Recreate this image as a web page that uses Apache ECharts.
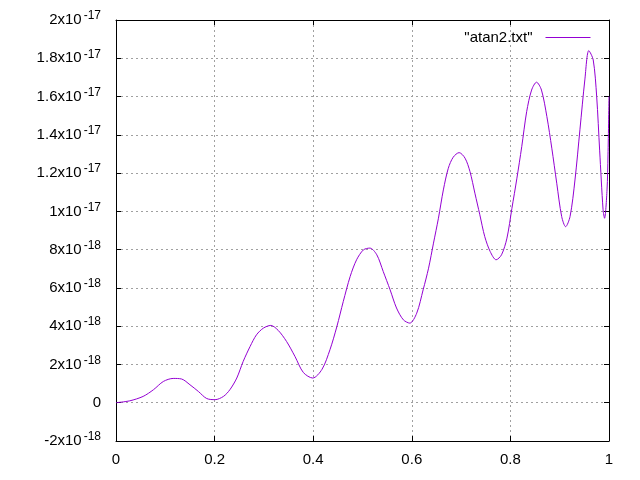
<!DOCTYPE html>
<html>
<head>
<meta charset="utf-8">
<script src="https://cdn.jsdelivr.net/npm/echarts@6/dist/echarts.min.js"></script>
<style>
html,body{margin:0;padding:0;background:#fff;}
#chart{width:640px;height:480px;}
</style>
</head>
<body>
<div id="chart"></div>
<script>
// x values
var xs = [0, 0.028, 0.055, 0.076, 0.096, 0.116, 0.133, 0.150, 0.167, 0.184, 0.201, 0.218, 0.231, 0.245, 0.258, 0.272, 0.285, 0.299, 0.314, 0.329, 0.346, 0.363, 0.380, 0.399, 0.418, 0.434, 0.448, 0.461, 0.475, 0.488, 0.502, 0.515, 0.529, 0.542, 0.556, 0.569, 0.583, 0.596, 0.610, 0.623, 0.634, 0.644, 0.654, 0.664, 0.674, 0.684, 0.696, 0.708, 0.718, 0.728, 0.738, 0.748, 0.759, 0.771, 0.782, 0.793, 0.803, 0.813, 0.823, 0.833, 0.843, 0.853, 0.863, 0.874, 0.884, 0.894, 0.904, 0.912, 0.921, 0.931, 0.941, 0.951, 0.959, 0.968, 0.975, 0.981, 0.988, 0.991, 0.996, 0.998, 1.0];
// y values, in units of 1e-18
var ys = [0, 0.1, 0.33, 0.68, 1.11, 1.27, 1.24, 0.94, 0.59, 0.22, 0.16, 0.33, 0.68, 1.29, 2.16, 2.94, 3.55, 3.9, 4.04, 3.78, 3.2, 2.42, 1.58, 1.29, 1.75, 2.77, 3.98, 5.29, 6.6, 7.47, 7.99, 8.08, 7.73, 6.86, 5.9, 4.95, 4.33, 4.16, 4.68, 5.9, 7.03, 8.34, 9.64, 11.12, 12.25, 12.83, 13.07, 12.78, 12.08, 10.95, 9.82, 8.68, 7.9, 7.47, 7.73, 8.6, 10.15, 11.7, 13.38, 15.21, 16.34, 16.75, 16.34, 14.95, 13.3, 11.47, 9.73, 9.2, 9.73, 11.64, 14.26, 16.87, 18.4, 17.91, 16.0, 13.2, 10.08, 9.64, 11.12, 12.95, 16.0];
var seriesName = '"atan2.txt"';

var FONT = "'Liberation Sans', Arial, sans-serif";
var data = xs.map(function (x, i) { return [x, ys[i]]; });

function yLabel(v) {
  var n = Math.round(v * 10) / 10;
  if (Math.abs(n) < 1e-9) return '{m|0}';
  if (Math.abs(n) >= 10) {
    var m = Math.round(n) / 10;
    return '{m|' + m + 'x10}{e|-17}';
  }
  return '{m|' + n + 'x10}{e|-18}';
}

var chart = echarts.init(document.getElementById('chart'), null, {renderer: 'canvas'});
chart.setOption({
  animation: false,
  backgroundColor: '#ffffff',
  grid: {left: 116, right: 31, top: 20, bottom: 39, containLabel: false},
  legend: {
    show: true,
    right: 44, top: 25,
    orient: 'horizontal',
    align: 'right',
    itemWidth: 45, itemHeight: 16,
    itemStyle: {opacity: 0},
    lineStyle: {width: 1, color: '#9400d3'},
    textStyle: {fontFamily: FONT, fontSize: 15, color: '#000', padding: [0, 8, 0, 0]}
  },
  xAxis: [{
    type: 'value', min: 0, max: 1, interval: 0.2, position: 'bottom',
    axisLine: {show: true, onZero: false, lineStyle: {color: '#000', width: 1}},
    axisTick: {show: true, inside: true, length: 5, lineStyle: {color: '#000'}},
    axisLabel: {show: true, margin: 11, fontFamily: FONT, fontSize: 15, color: '#000'},
    splitLine: {show: true, lineStyle: {color: '#a0a0a0', width: 1, type: [2, 3]}}
  }, {
    type: 'value', min: 0, max: 1, interval: 0.2, position: 'top',
    axisLine: {show: true, onZero: false, lineStyle: {color: '#000', width: 1}},
    axisTick: {show: true, inside: true, length: 5, lineStyle: {color: '#000'}},
    axisLabel: {show: false},
    splitLine: {show: false}
  }],
  yAxis: [{
    type: 'value', min: -2, max: 20, interval: 2, position: 'left',
    axisLine: {show: true, onZero: false, lineStyle: {color: '#000', width: 1}},
    axisTick: {show: true, inside: true, length: 5, lineStyle: {color: '#000'}},
    axisLabel: {
      show: true, margin: 15, color: '#000',
      formatter: yLabel,
      rich: {
        m: {fontFamily: FONT, fontSize: 15, color: '#000'},
        e: {fontFamily: FONT, fontSize: 12, color: '#000', padding: [0, 0, 8, 2]}
      }
    },
    splitLine: {show: true, lineStyle: {color: '#a0a0a0', width: 1, type: [2, 3]}}
  }, {
    type: 'value', min: -2, max: 20, interval: 2, position: 'right',
    axisLine: {show: true, onZero: false, lineStyle: {color: '#000', width: 1}},
    axisTick: {show: true, inside: true, length: 5, lineStyle: {color: '#000'}},
    axisLabel: {show: false},
    splitLine: {show: false}
  }],
  series: [{
    name: seriesName,
    type: 'line',
    xAxisIndex: 0, yAxisIndex: 0,
    symbol: 'none',
    showSymbol: false,
    smooth: 0.3,
    lineStyle: {color: '#9400d3', width: 1},
    itemStyle: {color: '#9400d3'},
    data: data
  }]
});
</script>
</body>
</html>
